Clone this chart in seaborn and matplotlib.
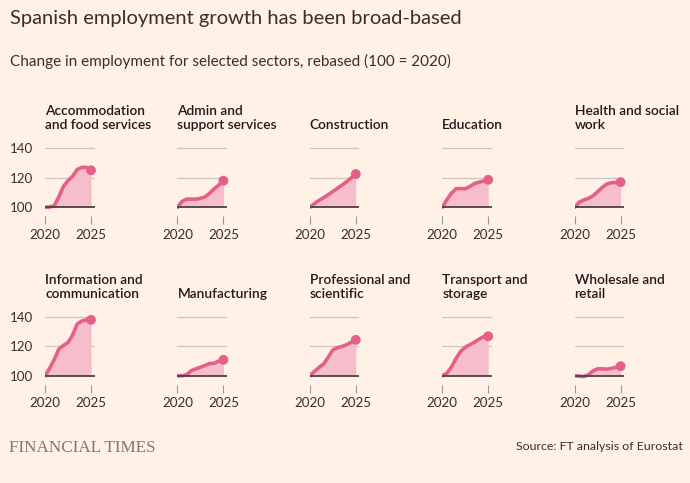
import matplotlib
matplotlib.use("Agg")
import matplotlib.pyplot as plt
import seaborn as sns
import pandas as pd

# ---- data (index 100 = 2020) ----
periods = [2020.0, 2020.5, 2021.0, 2021.5, 2022.0, 2022.5, 2023.0, 2023.5, 2024.0, 2024.5, 2025.0]

sector_titles = [
    "Accommodation\nand food services",
    "Admin and\nsupport services",
    "Construction",
    "Education",
    "Health and social\nwork",
    "Information and\ncommunication",
    "Manufacturing",
    "Professional and\nscientific",
    "Transport and\nstorage",
    "Wholesale and\nretail",
]

accommodation = [100, 100.2, 101, 107, 114, 118, 121, 125.5, 127, 127, 125]
admin = [100, 104, 105.5, 105.5, 105.5, 106, 107, 109.5, 112.5, 115, 118]
construction = [100, 102.5, 104.7, 106.5, 108.5, 110.6, 112.8, 115, 117.3, 119.8, 122.5]
education = [100, 105, 109.5, 112.5, 112.7, 112.5, 114, 116, 117, 117.7, 118.6]
health = [100, 103.4, 105, 106, 107.7, 110.5, 113.4, 115.7, 116.6, 116.8, 117]
information = [100, 105, 111, 118, 120.5, 122.5, 127.5, 135, 137, 137.8, 137.8]
manufacturing = [100, 100, 100.7, 103.4, 104.7, 105.8, 107, 108.3, 108.5, 110, 110.8]
professional = [100, 103, 105.6, 108, 112.5, 117.5, 119, 119.8, 121, 122.7, 124.3]
transport = [100, 101.8, 105.8, 111.7, 116.4, 119.3, 121, 122.7, 124.7, 126.5, 126.7]
wholesale = [100, 99.8, 99.5, 100.7, 103.3, 104.7, 104.7, 104.5, 105, 105.8, 106.5]

series = [accommodation, admin, construction, education, health,
          information, manufacturing, professional, transport, wholesale]

y_ticks = [100, 120, 140]
x_ticks = [2020, 2025]
x_ticklabels = ["2020", "2025"]

title = "Spanish employment growth has been broad-based"
subtitle = "Change in employment for selected sectors, rebased (100 = 2020)"
source = "Source: FT analysis of Eurostat"
brand = "FINANCIAL TIMES"

# ---- style ----
BG = "#FFF1E5"
TXT = "#33302E"
LINE = "#E3608B"
FILL = "#F6BDCA"
GRID = "#CEC6BC"
BASE = "#4E4243"

sns.set_theme(style="white")
plt.rcParams["font.family"] = ["Lato", "DejaVu Sans"]
plt.rcParams["text.color"] = TXT

W, H = 690, 483
fig = plt.figure(figsize=(W / 100, H / 100), dpi=100, facecolor=BG)

frames = []
for name, vals in zip(sector_titles, series):
    frames.append(pd.DataFrame({"sector": name, "year": periods, "value": vals}))
df = pd.concat(frames, ignore_index=True)

# layout in pixels
col_x0 = [45 + 132.4 * c for c in range(5)]   # pixel x of 2020
row_y100 = [207.3, 375.8]                      # pixel y of value 100
px_per_year = 9.2
px_per_unit = 1.48
xmin, xmax = 2020, 2025.4
ymin, ymax = 94, 141

for i, name in enumerate(sector_titles):
    r, c = divmod(i, 5)
    left_px = col_x0[c]
    width_px = (xmax - xmin) * px_per_year
    bottom_px = row_y100[r] + (100 - ymin) * px_per_unit
    height_px = (ymax - ymin) * px_per_unit
    ax = fig.add_axes([left_px / W, 1 - bottom_px / H, width_px / W, height_px / H])
    ax.set_facecolor("none")
    d = df[df["sector"] == name]

    for yt in y_ticks[1:]:
        ax.axhline(yt, color=GRID, lw=0.9, zorder=1)
    ax.fill_between(d["year"], 100, d["value"], color=FILL, lw=0, zorder=2)
    sns.lineplot(data=d, x="year", y="value", ax=ax, color=LINE, lw=2.6,
                 zorder=3, solid_capstyle="round", solid_joinstyle="round")
    ax.axhline(100, color=BASE, lw=1.3, zorder=4)
    last = d.iloc[[-1]]
    sns.scatterplot(data=last, x="year", y="value", ax=ax, color=LINE, s=50,
                    edgecolor="none", zorder=5, clip_on=False)

    ax.set_xlim(xmin, xmax)
    ax.set_ylim(ymin, ymax)
    ax.set_xlabel("")
    ax.set_ylabel("")
    for s in ax.spines.values():
        s.set_visible(False)
    ax.set_xticks(x_ticks)
    ax.set_xticklabels(x_ticklabels, fontsize=9.6, color=TXT)
    ax.tick_params(axis="x", length=5.5, width=0.8, color="#9E9791", pad=3.5,
                   direction="out", bottom=True)
    if c == 0:
        ax.set_yticks(y_ticks)
        ax.set_yticklabels([str(v) for v in y_ticks], fontsize=9.6, color=TXT)
        ax.tick_params(axis="y", length=0, pad=8.5)
    else:
        ax.set_yticks([])
    ax.grid(False)
    # panel title, last line baseline above the plot
    title_base_px = row_y100[r] - 78.3
    fig.text(left_px / W, 1 - title_base_px / H, name, fontsize=9.9,
             fontweight="semibold", color="#1F1A19", ha="left", va="baseline",
             linespacing=1.17)

fig.text(10 / W, 1 - 24 / H, title, fontsize=14.5, color=TXT, ha="left", va="baseline")
fig.text(10 / W, 1 - 65.7 / H, subtitle, fontsize=11.0, color=TXT, ha="left", va="baseline")
fig.text(9 / W, 1 - 451.5 / H, brand, fontsize=12.3, color="#7E7873",
         family=["Liberation Serif", "DejaVu Serif"], ha="left", va="baseline")
fig.text(683 / W, 1 - 450 / H, source, fontsize=8.9, color=TXT, ha="right", va="baseline")

fig.savefig("out.png", dpi=100, facecolor=BG)
